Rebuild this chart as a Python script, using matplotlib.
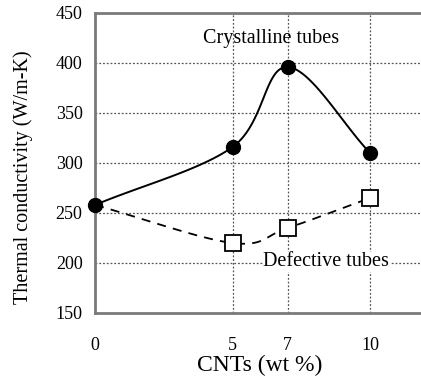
import matplotlib.pyplot as plt
import numpy as np

plt.rcParams['font.family'] = ['Liberation Serif', 'DejaVu Serif']

cnt_wt = [0, 5, 7, 10]
crystalline = [258, 316, 396, 310]
defective = [258, 220, 235, 265]
x_ticks = [0, 5, 7, 10]
y_ticks = [150, 200, 250, 300, 350, 400, 450]


def smooth(xs, ys, n=40):
    '''Catmull-Rom curve through the points, like a smoothed spreadsheet line.'''
    xs = np.asarray(xs, float)
    ys = np.asarray(ys, float)
    px = np.concatenate([[2 * xs[0] - xs[1]], xs, [2 * xs[-1] - xs[-2]]])
    py = np.concatenate([[2 * ys[0] - ys[1]], ys, [2 * ys[-1] - ys[-2]]])
    out_x, out_y = [], []
    for i in range(1, len(px) - 2):
        t = np.linspace(0, 1, n)
        for arr, p in ((out_x, px), (out_y, py)):
            p0, p1, p2, p3 = p[i - 1], p[i], p[i + 1], p[i + 2]
            arr.extend(0.5 * ((2 * p1) + (-p0 + p2) * t
                              + (2 * p0 - 5 * p1 + 4 * p2 - p3) * t ** 2
                              + (-p0 + 3 * p1 - 3 * p2 + p3) * t ** 3))
    return np.array(out_x), np.array(out_y)


fig = plt.figure(figsize=(4.21, 3.83), dpi=100)
ax = fig.add_axes([0.2257, 0.1828, 0.784, 0.7833])

ax.set_xlim(0, 12)
ax.set_ylim(150, 450)
ax.set_xticks(x_ticks)
ax.set_yticks(y_ticks)
ax.tick_params(length=0, labelsize=13)
ax.tick_params(axis='x', pad=17)
ax.tick_params(axis='y', pad=9)

for v in y_ticks[1:-1]:
    ax.axhline(v, color='#555555', lw=0.9, ls=(0, (1.5, 1.5)), zorder=1)
for v in x_ticks[1:]:
    ax.axvline(v, color='#555555', lw=0.9, ls=(0, (1.5, 1.5)), zorder=1)

for s in ax.spines.values():
    s.set_color('#7a7a7a')
    s.set_linewidth(2)

sx, sy = smooth(cnt_wt, crystalline)
ax.plot(sx, sy, color='black', lw=1.4, zorder=3)
ax.plot(cnt_wt, crystalline, 'o', color='black', ms=10, zorder=4, clip_on=False)

dx, dy = smooth(cnt_wt, defective)
ax.plot(dx, dy, color='black', lw=1.3, ls=(0, (5, 4)), zorder=3)
ax.plot(cnt_wt[1:], defective[1:], 's', mfc='white', mec='black', mew=1.3,
        ms=11, zorder=4)

ax.text(6.4, 424, 'Crystalline tubes', fontsize=14.5, ha='center', va='center')
ax.text(8.4, 201, 'Defective tubes', fontsize=14.5, ha='center', va='center',
        bbox=dict(facecolor='white', edgecolor='none', pad=0.5), zorder=2)

ax.set_xlabel('CNTs (wt %)', fontsize=17, labelpad=1)
ax.set_ylabel('Thermal conductivity (W/m-K)', fontsize=14.5)
ax.yaxis.set_label_coords(-0.188, 0.453)

fig.savefig('out.png', dpi=100)
